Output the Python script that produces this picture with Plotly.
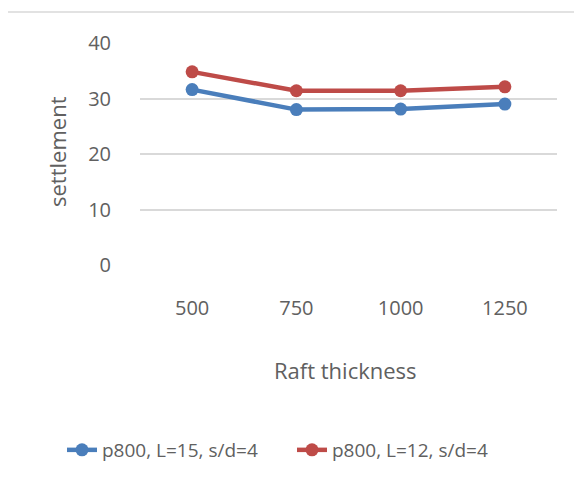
import plotly.graph_objects as go

categories = ["500", "750", "1000", "1250"]
series_blue = [31.6, 28.0, 28.1, 29.0]
series_red = [34.8, 31.4, 31.4, 32.1]
name_blue = "p800, L=15, s/d=4"
name_red = "p800, L=12, s/d=4"
y_ticks = [0, 10, 20, 30, 40]

OFF = 8  # page body margin
W, H = 582 - OFF, 491 - OFF
plot_left, plot_right, plot_top, plot_bottom = 140, 557, 43, 265
L = plot_left - OFF
T = plot_top - OFF
R = W - (plot_right - OFF)
B = H - (plot_bottom - OFF)
pw, ph = W - L - R, H - T - B

def px_x(px):
    return (px - plot_left) / pw

def px_y(py):
    return (plot_bottom - py) / ph

font_family = "'Open Sans', Lato, sans-serif"
txt = "#606060"
grid = "#D9D9D9"

fig = go.Figure()
fig.add_trace(go.Scatter(x=categories, y=series_blue, name=name_blue, mode="lines+markers",
                         line=dict(color="#4A7EBB", width=4.5), marker=dict(size=13, color="#4A7EBB")))
fig.add_trace(go.Scatter(x=categories, y=series_red, name=name_red, mode="lines+markers",
                         line=dict(color="#BE4B48", width=4.5), marker=dict(size=13, color="#BE4B48")))

fig.update_layout(
    width=W, height=H,
    margin=dict(l=L, r=R, t=T, b=B),
    paper_bgcolor="white", plot_bgcolor="white",
    font=dict(family=font_family, size=20, color=txt),
    showlegend=True,
    legend=dict(orientation="h", x=px_x(62), xanchor="left", y=px_y(450), yanchor="middle",
                entrywidth=185, entrywidthmode="pixels", itemwidth=30,
                font=dict(size=19, color=txt), bgcolor="rgba(0,0,0,0)"),
    xaxis=dict(type="category", range=[-0.5, 3.5], showgrid=False, zeroline=False, showline=False,
               ticks="outside", ticklen=25, tickcolor="rgba(0,0,0,0)",
               tickfont=dict(size=20, color=txt)),
    yaxis=dict(range=[0, 40], tickvals=y_ticks, showgrid=True, gridcolor=grid, gridwidth=1.5,
               zeroline=False, showline=False, ticks="outside", ticklen=24, tickcolor="rgba(0,0,0,0)",
               tickfont=dict(size=20, color=txt)),
    shapes=[
        dict(type="line", xref="paper", yref="paper", x0=px_x(7), x1=px_x(7), y0=px_y(12), y1=px_y(500),
             line=dict(color=grid, width=1.5)),
        dict(type="line", xref="paper", yref="paper", x0=px_x(7), x1=px_x(600), y0=px_y(12), y1=px_y(12),
             line=dict(color=grid, width=1.5)),
    ],
    annotations=[
        dict(text="settlement", xref="paper", yref="paper", x=px_x(57), y=px_y(152), textangle=-90,
             showarrow=False, font=dict(size=22, color=txt), xanchor="center", yanchor="middle"),
        dict(text="Raft thickness", xref="paper", yref="paper", x=px_x(345), y=px_y(370),
             showarrow=False, font=dict(size=22, color=txt), xanchor="center", yanchor="middle"),
    ],
)
fig.write_html("out.html")
